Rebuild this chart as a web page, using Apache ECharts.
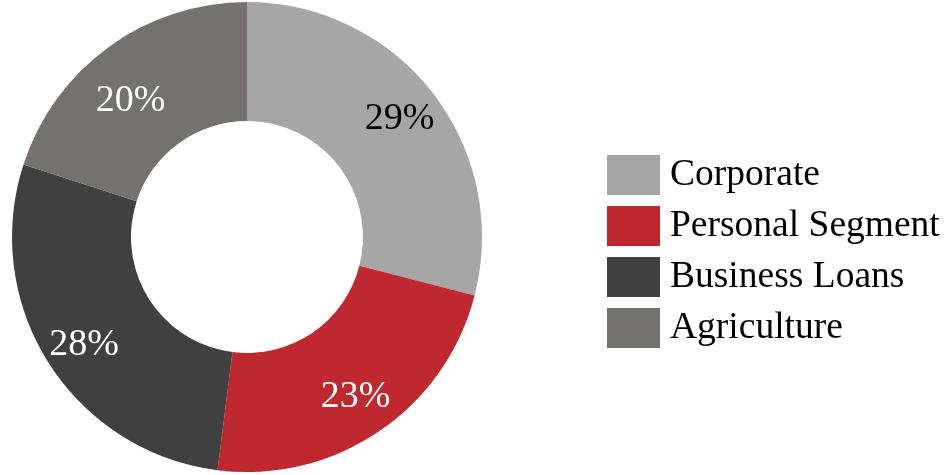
<!DOCTYPE html>
<html><head><meta charset="utf-8">
<script src="https://cdn.jsdelivr.net/npm/echarts@6/dist/echarts.min.js"></script>
<style>html,body{margin:0;padding:0;background:#fff}#c{width:945px;height:475px}</style>
</head><body><div id="c"></div>
<script>
const categories = ["Corporate", "Personal Segment", "Business Loans", "Agriculture"];
const values = [29, 23, 28, 20];

const colors = ["#A6A6A6", "#C0282F", "#404040", "#767171"];
const labelColors = ["#000000", "#FFFFFF", "#FFFFFF", "#FFFFFF"];
const labelOffsets = [[0, 0], [0, 0], [0, 5], [-3, 20]];

const chart = echarts.init(document.getElementById('c'));
chart.setOption({
  animation: false,
  legend: {
    orient: 'vertical', left: 602, top: 150,
    itemWidth: 53, itemHeight: 40, itemGap: 11,
    icon: 'rect',
    data: categories,
    textStyle: { fontFamily: 'Liberation Serif', fontSize: 37.5, lineHeight: 40, color: '#000', padding: [0, 0, 0, 5] }
  },
  series: [{
    type: 'pie',
    center: [247, 237],
    radius: [116, 235],
    startAngle: 90,
    clockwise: true,
    avoidLabelOverlap: false,
    itemStyle: { borderWidth: 0 },
    label: { show: false },
    labelLine: { show: false },
    emphasis: { disabled: true },
    data: categories.map((n, i) => ({
      name: n, value: values[i],
      itemStyle: { color: colors[i] }
    }))
  }, {
    type: 'pie',
    center: [247, 237],
    radius: [145, 235],
    startAngle: 90,
    clockwise: true,
    silent: true,
    avoidLabelOverlap: false,
    itemStyle: { color: 'rgba(0,0,0,0)', borderWidth: 0 },
    label: {
      show: true, position: 'inside',
      formatter: p => p.value + '%',
      fontFamily: 'Liberation Serif', fontSize: 38
    },
    labelLine: { show: false },
    emphasis: { disabled: true },
    data: categories.map((n, i) => ({
      name: n, value: values[i],
      itemStyle: { color: 'rgba(0,0,0,0)' },
      label: { color: labelColors[i], offset: labelOffsets[i] }
    }))
  }]
});
</script></body></html>
